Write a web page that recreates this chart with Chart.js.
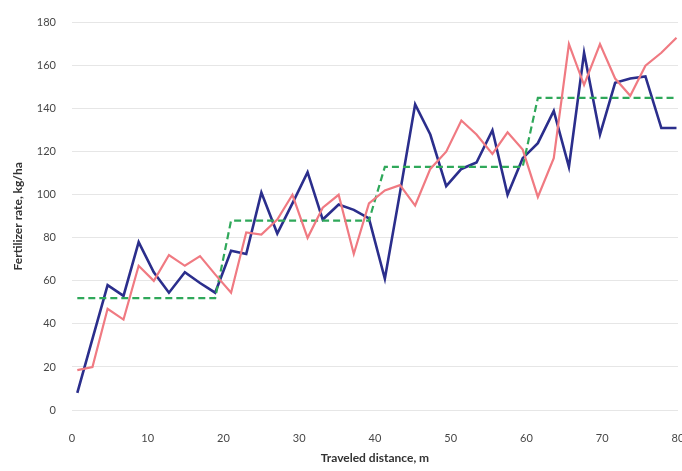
<!DOCTYPE html>
<html>
<head>
<meta charset="utf-8">
<script src="https://cdn.jsdelivr.net/npm/chart.js@4"></script>
<style>
  html, body { margin: 0; padding: 0; background: #fff; overflow: hidden; }
  #wrap { width: 682px; height: 471px; position: relative; }
</style>
</head>
<body>
<div id="wrap"><canvas id="rateChart"></canvas></div>
<script>
// Traveled distance (m) at each sample
const distance = [0.7, 2.7, 4.7, 6.8, 8.8, 10.8, 12.8, 14.9, 16.9, 18.9,
  21.0, 23.0, 25.0, 27.1, 29.1, 31.1, 33.1, 35.2, 37.2, 39.2,
  41.3, 43.3, 45.3, 47.3, 49.4, 51.4, 53.4, 55.5, 57.5, 59.5,
  61.5, 63.6, 65.6, 67.6, 69.7, 71.7, 73.7, 75.7, 77.8, 79.8];

// measured rate, red line
const rateRed = [18.5, 20, 47, 42, 67, 60, 72, 67, 71.5, 63,
  54.5, 82.5, 81.5, 88.5, 100, 80, 94, 100, 72.5, 96,
  102, 104.5, 95, 112, 120, 134.5, 128, 119, 129, 121,
  99, 117, 170, 151, 170, 154, 146, 160, 166, 173];

// measured rate, blue line
const rateBlue = [8, 33, 58, 53, 78, 64, 54.5, 64, 59, 54.5,
  74, 72.5, 101, 82, 96, 110.5, 88.5, 95.5, 93, 89,
  61, 101, 142, 128, 104, 112, 115, 130, 100, 117,
  124, 139, 113, 166, 128, 152, 154, 155, 131, 131];

// target rate, green dashed step
const rateTarget = [52, 52, 52, 52, 52, 52, 52, 52, 52, 52,
  88, 88, 88, 88, 88, 88, 88, 88, 88, 88,
  113, 113, 113, 113, 113, 113, 113, 113, 113, 113,
  145, 145, 145, 145, 145, 145, 145, 145, 145, 145];

const xTicks = [0, 10, 20, 30, 40, 50, 60, 70, 80];
const yTicks = [0, 20, 40, 60, 80, 100, 120, 140, 160, 180];

function toPoints(ys) {
    return ys.map((y, i) => ({ x: distance[i], y: y }));
}

const ctx = document.getElementById('rateChart').getContext('2d');
window.rateChart = new Chart(ctx, {
    type: 'line',
    data: {
        datasets: [
            {
                data: toPoints(rateRed),
                borderColor: '#f07a82',
                borderWidth: 2.2,
                pointRadius: 0,
                tension: 0
            },
            {
                data: toPoints(rateTarget),
                borderColor: '#2fa85a',
                borderWidth: 2.2,
                borderDash: [7, 4],
                pointRadius: 0,
                tension: 0
            },
            {
                data: toPoints(rateBlue),
                borderColor: '#2b2e8c',
                borderWidth: 2.6,
                pointRadius: 0,
                tension: 0
            }
        ]
    },
    options: {
        responsive: true,
        maintainAspectRatio: false,
        animation: false,
        layout: { padding: { top: 6, right: 0, bottom: 0, left: 0 } },
        plugins: {
            legend: { display: false },
            tooltip: { enabled: false }
        },
        scales: {
            x: {
                type: 'linear',
                min: 0,
                max: 80,
                afterBuildTicks: scale => { scale.ticks = xTicks.map(v => ({ value: v })); },
                afterFit: scale => { scale.height = 61; scale.paddingRight = 4; scale.paddingLeft = 0; },
                grid: { display: false },
                border: { display: false },
                ticks: {
                    padding: 14,
                    maxRotation: 0,
                    color: '#474747',
                    font: { family: 'Lato', size: 11 }
                },
                title: {
                    display: true,
                    text: 'Traveled distance, m',
                    color: '#333333',
                    font: { family: 'Lato', size: 12, weight: 'bold' },
                    padding: { top: 0, bottom: 6 }
                }
            },
            y: {
                min: 0,
                max: 180,
                afterBuildTicks: scale => { scale.ticks = yTicks.map(v => ({ value: v })); },
                afterFit: scale => { scale.width = 72; },
                grid: { color: '#e6e6e6', lineWidth: 1, drawTicks: false },
                border: { display: false },
                ticks: {
                    padding: 16,
                    color: '#474747',
                    font: { family: 'Lato', size: 11 }
                },
                title: {
                    display: true,
                    text: 'Fertilizer rate, kg/ha',
                    color: '#333333',
                    font: { family: 'Lato', size: 12, weight: 'bold' },
                    padding: { top: 11, bottom: 0 }
                }
            }
        }
    }
});
</script>
</body>
</html>
